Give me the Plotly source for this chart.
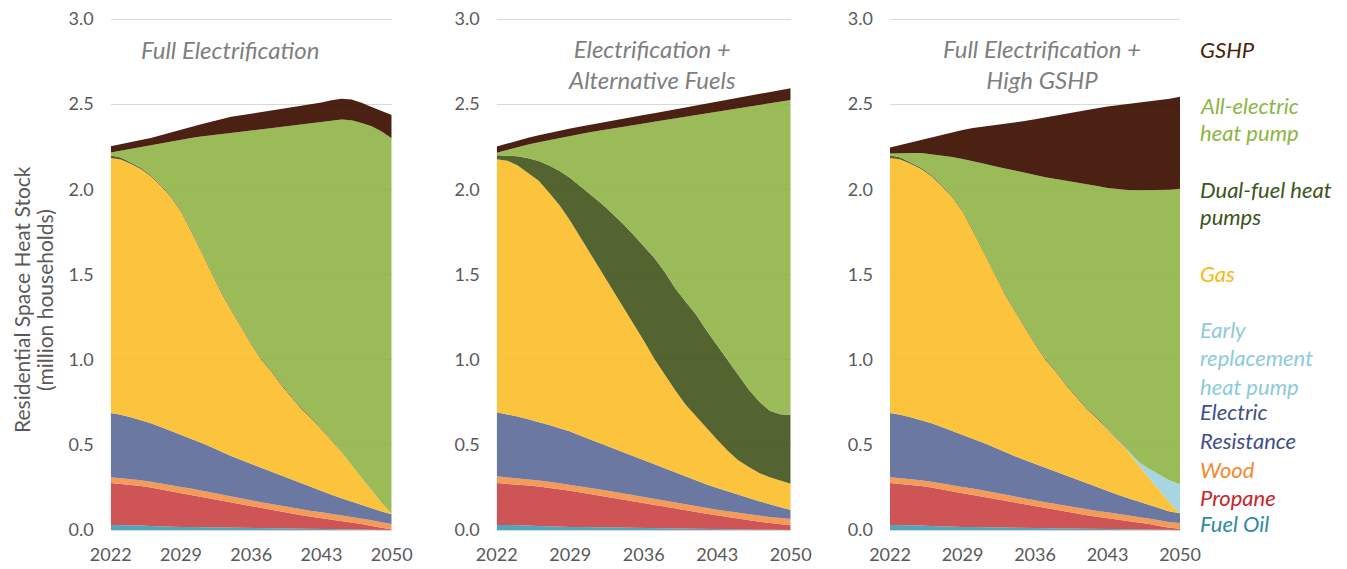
import plotly.graph_objects as go

years = list(range(2022, 2051))
label_years = [2022, 2029, 2036, 2043, 2050]

series_names = ["Fuel Oil", "Propane", "Wood", "Electric Resistance", "Gas",
                "Early replacement heat pump", "Dual-fuel heat pumps",
                "All-electric heat pump", "GSHP"]

# ---------- Panel 1: Full Electrification ----------
fe_fuel_oil = [.030, .030, .029, .027, .024, .021, .019, .018, .017, .016, .015, .013, .012, .011, .010,
               .009, .008, .007, .006, .005, .004, .003, .002, .002, .001, .001, 0, 0, 0]
fe_propane = [.246, .241, .236, .231, .226, .219, .209, .198, .188, .178, .168, .158, .148, .138, .128,
              .118, .109, .100, .091, .082, .074, .067, .059, .051, .044, .034, .024, .013, .003]
fe_wood = [.034, .034, .034, .034, .034, .035, .036, .037, .038, .037, .037, .036, .036, .036, .036,
           .036, .036, .035, .035, .035, .034, .034, .034, .033, .033, .033, .033, .032, .032]
fe_electric = [.377, .372, .363, .353, .342, .330, .318, .306, .295, .281, .267, .253, .239, .226, .214,
               .202, .190, .177, .163, .150, .137, .124, .112, .100, .088, .080, .072, .064, .057]
fe_gas = [1.497, 1.498, 1.488, 1.475, 1.451, 1.415, 1.373, 1.311, 1.218, 1.123, 1.023, .935, .855, .779, .702,
          .635, .587, .531, .485, .438, .406, .362, .318, .274, .214, .157, .101, .051, .002]
fe_early = [0] * 29
fe_dual = [.016, .012, .008, .006, .006, .006, .006, .006, .006, .006, .006, .006, .006, .006, .006,
           .006, .006, .006, .006, .006, .006, .006, .006, .003, 0, 0, 0, 0, 0]
fe_allelec = [.016, .040, .080, .123, .176, .244, .320, .416, .540, .669, .802, .924, 1.036, 1.142, 1.249,
              1.346, 1.423, 1.510, 1.587, 1.664, 1.726, 1.798, 1.871, 1.947, 2.025, 2.085, 2.140, 2.180, 2.206]
fe_gshp = [.037, .037, .038, .040, .043, .047, .052, .058, .064, .072, .079, .087, .094, .097, .099,
           .101, .102, .104, .107, .110, .112, .116, .121, .122, .122, .118, .114, .122, .137]

# ---------- Panel 2: Electrification + Alternative Fuels ----------
af_fuel_oil = [.030, .030, .029, .027, .024, .021, .019, .018, .017, .016, .015, .013, .012, .011, .010,
               .009, .008, .007, .006, .005, .004, .003, .002, .002, .001, .001, 0, 0, 0]
af_propane = [.246, .242, .238, .234, .231, .227, .220, .212, .203, .194, .185, .177, .168, .159, .150,
              .140, .130, .120, .110, .101, .091, .082, .073, .064, .056, .048, .041, .034, .028]
af_wood = [.039, .038, .037, .036, .036, .036, .036, .037, .037, .037, .036, .036, .035, .035, .034,
           .034, .034, .034, .034, .034, .034, .034, .035, .035, .035, .035, .035, .036, .036]
af_electric = [.376, .370, .362, .353, .343, .333, .322, .311, .297, .283, .269, .255, .241, .227, .213,
               .200, .187, .175, .162, .150, .138, .127, .116, .105, .095, .085, .075, .064, .054]
af_gas = [1.485, 1.488, 1.474, 1.445, 1.416, 1.363, 1.308, 1.237, 1.161, 1.090, 1.015, .939, .860, .783, .706,
          .622, .551, .484, .423, .375, .333, .284, .239, .204, .183, .166, .159, .156, .154]
af_early = [0] * 29
af_dual = [.024, .030, .054, .088, .117, .160, .203, .252, .303, .348, .395, .438, .484, .520, .556,
           .593, .605, .600, .605, .598, .570, .553, .530, .495, .455, .420, .390, .390, .403]
af_allelec = [.015, .034, .054, .080, .110, .150, .194, .247, .307, .368, .432, .499, .567, .642, .718,
              .799, .892, .997, 1.087, 1.174, 1.277, 1.374, 1.472, 1.572, 1.662, 1.742, 1.806, 1.835, 1.850]
af_gshp = [.036, .037, .038, .040, .041, .042, .042, .043, .044, .045, .046, .047, .048, .049, .050,
           .050, .051, .052, .053, .054, .055, .057, .058, .059, .061, .063, .065, .067, .069]

# ---------- Panel 3: Full Electrification + High GSHP ----------
hg_fuel_oil = [.030, .030, .029, .027, .024, .021, .019, .018, .017, .016, .015, .013, .012, .011, .010,
               .009, .008, .007, .006, .005, .004, .003, .002, .002, .001, .001, 0, 0, 0]
hg_propane = [.246, .241, .236, .231, .226, .219, .209, .198, .188, .178, .168, .158, .148, .138, .128,
              .118, .109, .100, .091, .082, .074, .067, .059, .051, .044, .034, .024, .013, .008]
hg_wood = [.034, .034, .034, .034, .034, .035, .036, .037, .038, .037, .037, .036, .036, .036, .036,
           .036, .036, .035, .035, .035, .034, .034, .034, .033, .033, .033, .033, .032, .033]
hg_electric = [.377, .372, .363, .353, .342, .330, .318, .306, .295, .281, .267, .253, .239, .226, .214,
               .202, .190, .177, .163, .150, .137, .124, .112, .100, .088, .080, .072, .064, .057]
hg_gas = [1.497, 1.498, 1.488, 1.475, 1.451, 1.415, 1.373, 1.311, 1.218, 1.123, 1.023, .935, .855, .779, .702,
          .635, .587, .531, .485, .438, .406, .362, .318, .274, .214, .157, .101, .051, .002]
hg_early = [0, 0, 0, 0, 0, 0, 0, 0, 0, 0, 0, 0, 0, 0, 0,
            0, 0, 0, 0, 0, 0, 0, 0, 0, .020, .055, .095, .130, .168]
hg_dual = [.016, .012, .008, .006, .006, .006, .006, .006, .006, .006, .006, .006, .006, .006, .006,
           .006, .006, .006, .006, .006, .006, .006, .006, .003, 0, 0, 0, 0, 0]
hg_allelec = [.010, .026, .056, .087, .123, .173, .229, .302, .405, .511, .621, .722, .813, .900, .987,
              1.065, 1.124, 1.195, 1.256, 1.315, 1.359, 1.412, 1.469, 1.533, 1.594, 1.634, 1.670, 1.707, 1.736]
hg_gshp = [.035, .047, .061, .077, .099, .121, .145, .170, .193, .216, .238, .260, .282, .305, .329,
           .351, .372, .392, .412, .434, .456, .479, .494, .505, .513, .521, .529, .535, .540]

panels = [
    [fe_fuel_oil, fe_propane, fe_wood, fe_electric, fe_gas, fe_early, fe_dual, fe_allelec, fe_gshp],
    [af_fuel_oil, af_propane, af_wood, af_electric, af_gas, af_early, af_dual, af_allelec, af_gshp],
    [hg_fuel_oil, hg_propane, hg_wood, hg_electric, hg_gas, hg_early, hg_dual, hg_allelec, hg_gshp],
]
panel_titles = ["<i>Full Electrification</i>",
                "<i>Electrification +<br>Alternative Fuels</i>",
                "<i>Full Electrification +<br>High GSHP</i>"]

# apparent fill colours (as seen on white)
fill_seen = ["#4fa6bd", "#cf5456", "#f59c5a", "#6b7aa2", "#fcc43d",
             "#a8d6e2", "#546431", "#9bbb59", "#4c2106"]
ALPHA = 0.92


def to_rgba(hex_col, a=ALPHA):
    h = hex_col.lstrip("#")
    rgb = [int(h[i:i + 2], 16) for i in (0, 2, 4)]
    base = [max(0, min(255, round((c - (1 - a) * 255) / a))) for c in rgb]
    return f"rgba({base[0]},{base[1]},{base[2]},{a})"


FONT = "Lato"
GRAY = "#595959"
W, H = 1347, 569
OFF = 8  # page body margin compensation
PX_PER_UNIT = (530 - 19) / 3.0


def px(xp):
    return (xp - OFF) / W


def py(yp):
    return 1 - (yp - OFF) / H


fig = go.Figure()
x_domains = [(px(110.7), px(391.7)), (px(496.7), px(790.7)), (px(890), px(1180))]
y_domain = (py(530), py(16))
y_top = 3.0 + 3 / PX_PER_UNIT
minor_steps = [4, 7, 8]

for p, values in enumerate(panels):
    xa = "x" if p == 0 else f"x{p + 1}"
    ya = "y" if p == 0 else f"y{p + 1}"
    for name, vals, col in zip(series_names, values, fill_seen):
        fig.add_trace(go.Scatter(
            x=years, y=vals, name=name, xaxis=xa, yaxis=ya,
            mode="lines", line=dict(width=0), fillcolor=to_rgba(col),
            stackgroup=f"s{p}", showlegend=False,
            hovertemplate=name + ": %{y:.2f}<extra></extra>"))

layout = dict(
    width=W, height=H, margin=dict(l=0, r=0, t=0, b=0, pad=0, autoexpand=False),
    paper_bgcolor="white", plot_bgcolor="white",
    font=dict(family=FONT, color=GRAY), showlegend=False,
)
for p in range(3):
    sfx = "" if p == 0 else str(p + 1)
    layout[f"xaxis{sfx}"] = dict(
        domain=list(x_domains[p]), anchor=f"y{sfx}", range=[2022, 2050],
        tickmode="array", tickvals=label_years, ticks="", automargin=False,
        showgrid=False, zeroline=False, showline=True, linecolor="#d9d9d9", linewidth=1,
        tickfont=dict(size=18, color=GRAY, family=FONT), ticklabelstandoff=8,
        ticklabeloverflow="allow",
    )
    layout[f"yaxis{sfx}"] = dict(
        domain=list(y_domain), anchor=f"x{sfx}", range=[0, y_top], automargin=False,
        tickmode="array", tickvals=[0, 0.5, 1, 1.5, 2, 2.5, 3], tickformat=".1f",
        ticks="", showgrid=True, gridcolor="#d9d9d9", gridwidth=1, zeroline=False,
        showline=False, tickfont=dict(size=18, color=GRAY, family=FONT), ticklabelstandoff=16,
        ticklabeloverflow="allow",
    )
    # overlay axis carrying the tick marks
    ox = p + 4
    layout[f"xaxis{ox}"] = dict(
        overlaying="x" + sfx, anchor=f"y{sfx}", range=[2022, 2050], automargin=False,
        tickmode="linear", tick0=2022, dtick=minor_steps[p],
        ticks="outside", ticklen=6, tickcolor="#d9d9d9", tickwidth=1,
        showticklabels=False, showgrid=False, zeroline=False, showline=False,
    )
fig.update_layout(**layout)

annotations = []
# y-axis title (two lines)
for txt, lx in [("Residential Space Heat Stock", 21), ("(million households)", 44)]:
    annotations.append(dict(
        text=txt, textangle=-90,
        x=px(lx), y=py(300), xref="paper", yref="paper", showarrow=False,
        xanchor="center", yanchor="middle", font=dict(size=21, color=GRAY, family=FONT)))
# panel titles
title_pos = [(230, 49), (652, 64), (1042, 64)]
for (tx, ty), t in zip(title_pos, panel_titles):
    annotations.append(dict(
        text=t, x=px(tx), y=py(ty), xref="paper", yref="paper", showarrow=False,
        xanchor="center", yanchor="middle",
        font=dict(size=24, color="#7f7f7f", family=FONT)))

legend_lines = [
    ("GSHP", 49, "#4a2306"),
    ("All-electric", 105, "#8cb543"), ("heat pump", 133, "#8cb543"),
    ("Dual-fuel heat", 189, "#3e5321"), ("pumps", 216, "#3e5321"),
    ("Gas", 273, "#f9b814"),
    ("Early", 329, "#8dcbdb"), ("replacement", 357, "#8dcbdb"), ("heat pump", 386, "#8dcbdb"),
    ("Electric", 411, "#3f4f8c"), ("Resistance", 441, "#3f4f8c"),
    ("Wood", 469, "#f5882f"),
    ("Propane", 497, "#c8242c"),
    ("Fuel Oil", 523, "#2e8ba3"),
]
for txt, ly, col in legend_lines:
    annotations.append(dict(
        text=f"<i>{txt}</i>", x=px(1198), y=py(ly), xref="paper", yref="paper",
        showarrow=False, xanchor="left", yanchor="middle",
        font=dict(size=22, color=col, family=FONT)))

fig.update_layout(annotations=annotations)
fig.write_html("out.html")
